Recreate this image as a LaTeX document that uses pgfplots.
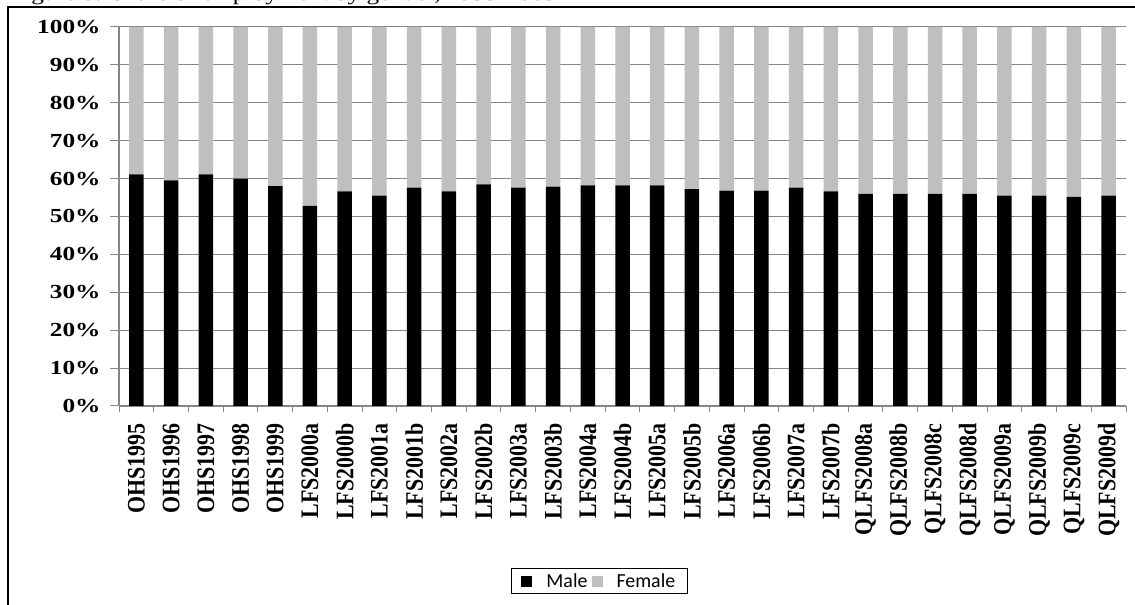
\documentclass[border=0pt]{standalone}
\usepackage{pgfplots}
\pgfplotsset{compat=1.18}
\usepackage{pgfplotstable}
\usepackage{fontspec}
\setmainfont{Liberation Serif}
\newfontfamily\widefont{Liberation Serif}[FakeStretch=1.27]
\newfontfamily\legfont{Carlito}
\definecolor{femalegray}{RGB}{191,191,191}
\definecolor{gridgray}{RGB}{134,134,134}

% Share of employment by gender (percent)
\pgfplotstableread{
idx label male female
0 OHS1995 61.1 38.9
1 OHS1996 59.5 40.5
2 OHS1997 61.1 38.9
3 OHS1998 60.0 40.0
4 OHS1999 58.0 42.0
5 LFS2000a 52.8 47.2
6 LFS2000b 56.6 43.4
7 LFS2001a 55.5 44.5
8 LFS2001b 57.6 42.4
9 LFS2002a 56.6 43.4
10 LFS2002b 58.5 41.5
11 LFS2003a 57.6 42.4
12 LFS2003b 57.9 42.1
13 LFS2004a 58.2 41.8
14 LFS2004b 58.2 41.8
15 LFS2005a 58.2 41.8
16 LFS2005b 57.2 42.8
17 LFS2006a 56.8 43.2
18 LFS2006b 56.8 43.2
19 LFS2007a 57.6 42.4
20 LFS2007b 56.6 43.4
21 QLFS2008a 56.0 44.0
22 QLFS2008b 56.0 44.0
23 QLFS2008c 56.0 44.0
24 QLFS2008d 56.0 44.0
25 QLFS2009a 55.5 44.5
26 QLFS2009b 55.5 44.5
27 QLFS2009c 55.2 44.8
28 QLFS2009d 55.5 44.5
}\shares

\begin{document}
\begin{tikzpicture}
\useasboundingbox (0bp,0bp) rectangle (1135bp,605bp);
% frame
\draw[line width=2bp] (8bp,-5bp) -- (8bp,598bp) -- (1140bp,598bp);
% heading, cut at the top edge
\node[anchor=base west, inner sep=0, font=\fontsize{20}{24}\widefont] at (10bp,604.5bp)
  {Figure 3: Share of employment by gender, 1995-2009};
\begin{axis}[
  at={(119bp,199bp)}, anchor=south west,
  scale only axis, width=1007bp, height=379bp,
  ybar stacked, bar width=14.5bp,
  xmin=-0.5, xmax=28.5, ymin=0, ymax=100,
  axis lines*=left,
  axis line style={gridgray, line width=1.2bp},
  tick align=outside,
  xtick={0,...,28},
  xticklabels from table={\shares}{label},
  minor xtick={-0.5,0.5,...,28.5},
  major x tick style={draw=none},
  minor x tick style={gridgray, line width=1bp},
  minor tick length=6bp,
  major tick length=9bp,
  major y tick style={gridgray, line width=1bp},
  ytick={0,10,...,100},
  yticklabels={0\%,10\%,20\%,30\%,40\%,50\%,60\%,70\%,80\%,90\%,100\%},
  ymajorgrids,
  grid style={gridgray, line width=1bp},
  yticklabel style={font=\fontsize{20}{24}\widefont\bfseries, anchor=east, xshift=-6bp},
  xticklabel style={font=\fontsize{22}{26}\selectfont\bfseries, rotate=90, yscale=1.15, anchor=east},
  xticklabel shift=5bp,
  legend columns=2,
  legend style={at={(0.477,-0.462)}, anchor=center, draw=black, line width=1bp,
    font=\fontsize{20}{24}\legfont, inner xsep=10bp, inner ysep=2.5bp,
    /tikz/every even column/.append style={column sep=2bp},
    /tikz/every odd column/.append style={column sep=12bp}},
]
\addplot[fill=black, draw=none,
  legend image code/.code={\fill[black] (0bp,-5.5bp) rectangle (11bp,5.5bp);}]
  table[x=idx, y=male] {\shares};
\addlegendentry{Male}
\addplot[fill=femalegray, draw=none,
  legend image code/.code={\fill[femalegray] (0bp,-5.5bp) rectangle (11bp,5.5bp);}]
  table[x=idx, y=female] {\shares};
\addlegendentry{Female}
\end{axis}
\end{tikzpicture}
\end{document}
